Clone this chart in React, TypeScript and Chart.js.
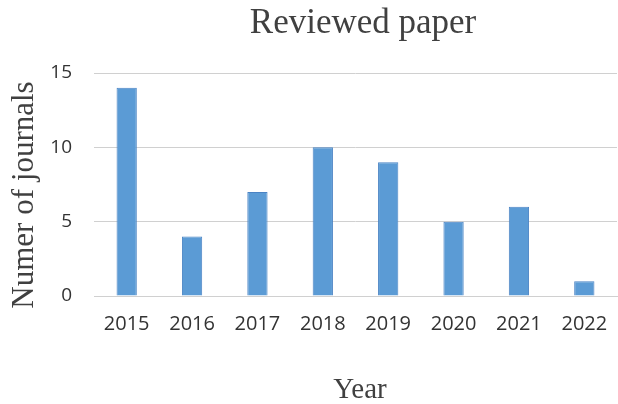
import React, { useEffect, useRef } from "react";
import { Chart, registerables } from "chart.js";

Chart.register(...registerables);

const years = ["2015", "2016", "2017", "2018", "2019", "2020", "2021", "2022"];
const journals = [14, 4, 7, 10, 9, 5, 6, 1];
const yTicks = [0, 5, 10, 15];
const titleText = "Reviewed paper";
const xTitle = "Year";
const yTitle = "Numer of journals";

const SERIF = '"Liberation Serif", "Times New Roman", serif';
const SANS = '"Open Sans", "Noto Sans", sans-serif';

export default function App() {
  const ref = useRef<HTMLCanvasElement | null>(null);

  useEffect(() => {
    document.body.style.margin = "0";
    const canvas = ref.current!;
    const titles = {
      id: "customTitles",
      afterDraw(chart: any) {
        const { ctx } = chart;
        ctx.save();
        ctx.fillStyle = "#404040";
        ctx.textAlign = "center";
        ctx.textBaseline = "alphabetic";
        ctx.font = `35px ${SERIF}`;
        ctx.fillText(titleText, 363, 33);
        ctx.font = `29px ${SERIF}`;
        ctx.fillText(xTitle, 360, 398);
        ctx.translate(33, 195);
        ctx.rotate(-Math.PI / 2);
        ctx.font = `31px ${SERIF}`;
        ctx.fillText(yTitle, 0, 0);
        ctx.restore();
      },
    };
    const chart = new Chart(canvas, {
      type: "bar",
      data: {
        labels: years,
        datasets: [
          {
            data: journals,
            backgroundColor: "#5B9BD5",
            borderColor: "#4A83C4",
            borderWidth: 1,
            barPercentage: 0.62,
            categoryPercentage: 0.5,
          },
        ],
      },
      options: {
        animation: false,
        responsive: false,
        layout: { padding: { top: 73, right: 1, left: 0, bottom: 0 } },
        plugins: { legend: { display: false }, tooltip: { enabled: false }, title: { display: false } },
        scales: {
          x: {
            grid: { display: false, drawTicks: false },
            border: { display: true, color: "#d0d0d0", width: 1 },
            ticks: { color: "#333333", font: { family: SANS, size: 20 }, padding: 16, maxRotation: 0 },
            afterFit(scale: any) {
              scale.height = 108;
              scale.paddingLeft = 0;
              scale.paddingRight = 0;
            },
          },
          y: {
            min: 0,
            max: 15,
            afterBuildTicks(scale: any) {
              scale.ticks = yTicks.map((v) => ({ value: v }));
            },
            grid: { color: "#d0d0d0", lineWidth: 1, drawTicks: false },
            border: { display: false },
            ticks: { color: "#333333", font: { family: SANS, size: 19 }, padding: 22 },
            afterFit(scale: any) {
              scale.width = 94;
              scale.paddingTop = 0;
              scale.paddingBottom = 0;
            },
          },
        },
      },
      plugins: [titles],
    });
    return () => chart.destroy();
  }, []);

  return (
    <div style={{ position: "absolute", left: 0, top: 0, width: 618, height: 404, background: "#fff" }}>
      <canvas ref={ref} width={618} height={404} style={{ width: 618, height: 404 }} />
    </div>
  );
}
